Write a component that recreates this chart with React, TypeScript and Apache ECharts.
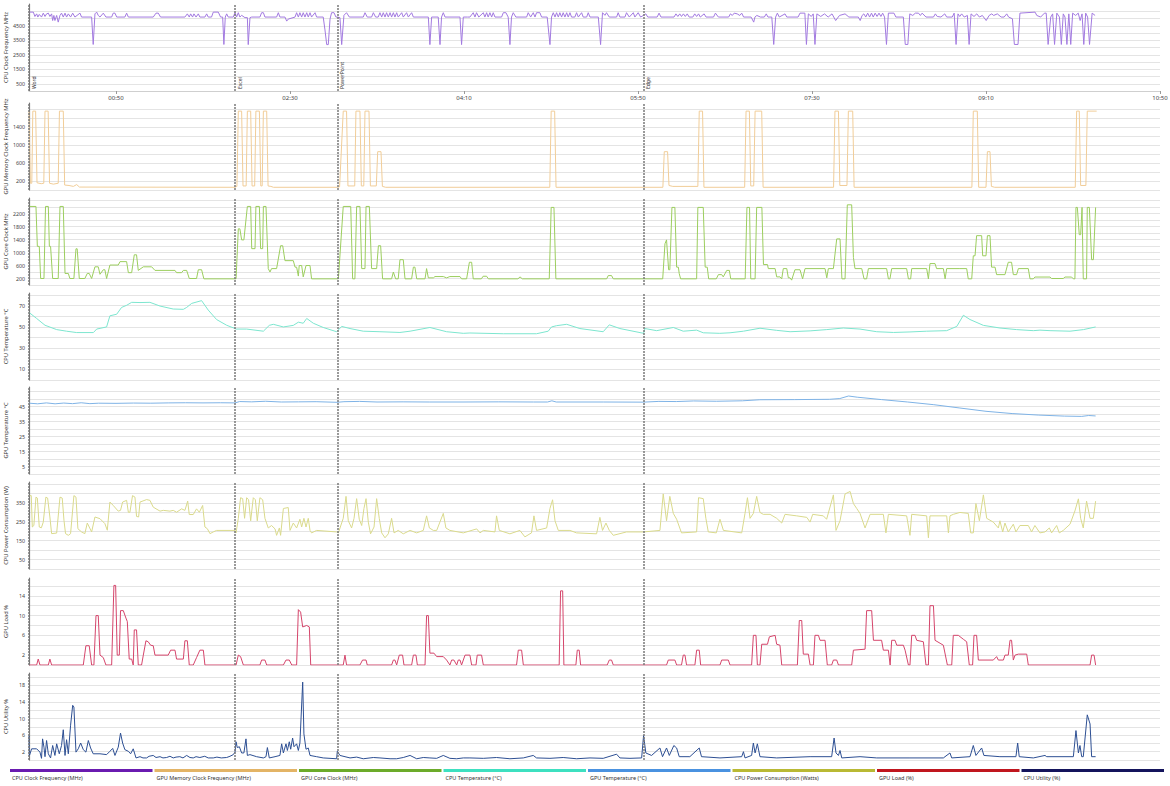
import React, { useEffect, useRef } from "react";
import * as echarts from "echarts";

type P = [number, number];

const eventNames = ["Word", "Excel", "PowerPoint", "Edge"];
const eventTimes = [0, 118.4, 177.2, 353.2];
const timeTicks = [50, 150, 250, 350, 450, 550, 650];

const axisNames = [
  "CPU Clock Frequency MHz",
  "GPU Memory Clock Frequency MHz",
  "GPU Core Clock MHz",
  "CPU Temperature °C",
  "GPU Temperature °C",
  "CPU Power Consumption (W)",
  "GPU Load %",
  "CPU Utility %",
];
const legendNames = [
  "CPU Clock Frequency (MHz)",
  "GPU Memory Clock Frequency (MHz)",
  "GPU Core Clock (MHz)",
  "CPU Temperature (°C)",
  "GPU Temperature (°C)",
  "CPU Power Consumption (Watts)",
  "GPU Load (%)",
  "CPU Utility (%)",
];
const lineColors = ["#a27ae0", "#f1cd98", "#9cce5e", "#7de6cf", "#7fb3e6", "#dada8c", "#d5456b", "#2d4f93"];
const legendColors = ["#6a1bb0", "#e3b466", "#6cab2a", "#3ee0c0", "#4a92e0", "#b9b934", "#c0161e", "#14145c"];
const yMaxes = [6000, 1930, 2680, 82, 58, 460, 17.6, 21];
const yIntervals = [500, 200, 200, 10, 5, 50, 2, 2];
const yLabelValues = [
  [500, 1500, 2500, 3500, 4500],
  [200, 600, 1000, 1400],
  [200, 600, 1000, 1400, 1800, 2200],
  [10, 30, 50, 70],
  [5, 15, 25, 35, 45],
  [50, 150, 250, 350],
  [2, 6, 10, 14],
  [2, 6, 10, 14, 18],
];

const cpuClock: P[] = [
  [0,5440],[2.5,5440],[3.4,5140],[4.4,5320],[5.1,5100],[5.9,5280],[7.2,5100],[8.2,5370],[9.2,5140],[10.1,5320],[11.1,5370],[12,5140],[13,5320],[13.6,4860],[14.3,5210],[14.9,4860],[15.9,5210],[16.8,4750],[17.8,5210],[18.7,5370],[19.7,5100],[20.7,5370],[21.6,5100],[22.6,5320],[23.9,5100],[25.1,5370],[26.4,5100],[29.3,5370],[30.2,5100],[36,5100],[36.9,3210],[37.9,5320],[38.9,5440],[39.8,5210],[40.8,5100],[42.7,5370],[44.2,5100],[47.5,5100],[48.4,5370],[49.4,5370],[50.4,5100],[55.1,5100],[56.1,5370],[57.1,5100],[71.4,5100],[73,5370],[74.3,5370],[75.6,5100],[89.6,5100],[91,5320],[92.1,5100],[92.9,5320],[94,5100],[94.8,5320],[96,5100],[97.3,5320],[98.2,5100],[101.1,5100],[102.1,5320],[103,5100],[104.9,5100],[105.9,5440],[108.8,5440],[110.1,5100],[111.3,5100],[112,3210],[112.8,5100],[113.6,5320],[114.5,5100],[117.4,5100],
  [118.4,5400],[119.3,5100],[120.3,5400],[121.2,5100],[122.2,5220],[124.1,5060],[125.5,5060],[126,3200],[127,5060],[128,5100],[132.7,5100],[133.7,5400],[134.7,5400],[135.6,5100],[142.3,5100],[143.3,5400],[144.2,5100],[147.1,5100],[148.1,4820],[149,4960],[152.9,5100],[153.8,5400],[154.8,5100],[155.7,5400],[156.7,5100],[157.6,5400],[158.6,5100],[159.6,5400],[160.5,5100],[161.5,5400],[162.4,5100],[164.4,5400],[165.3,5100],[169.1,5100],[170.1,4210],[171.1,3200],[172,3200],[173,4960],[173.9,5400],[175.3,5400],[176.4,5100],
  [177.2,5100],[178.7,5060],[179.7,3200],[181,5220],[182.5,5400],[184.1,5100],[192.1,5100],[193.1,5400],[194.4,5100],[196.9,5100],[197.9,5400],[199.2,5100],[200.7,5100],[201.7,5400],[202.7,5100],[203.6,5400],[204.6,5100],[205.5,5400],[206.5,5100],[207.5,5400],[208.4,5100],[209.4,5400],[210.3,5100],[211.3,5400],[212.2,5100],[214.2,5400],[215.1,5100],[217,5400],[218,5100],[219.9,5400],[220.9,5100],[229.5,5100],[230.4,3200],[231.4,5100],[235.2,5100],[236.2,3200],[237.1,5100],[238.1,5400],[239.1,5100],[247.7,5100],[248.6,3200],[249.6,5100],[252,5100],
  [253.4,5100],[255.3,5400],[256.3,5100],[257.2,5400],[258.5,5100],[261.1,5400],[262,5100],[263,5400],[263.9,5100],[264.9,5400],[265.9,5100],[266.8,5400],[267.8,5100],[271.6,5100],[272.6,5400],[274.1,5400],[275.4,5100],[276.4,3200],[277.3,5100],[278.3,5400],[279.8,5100],[286,5100],[286.9,5400],[288.3,5100],[289.8,5400],[290.8,5100],[291.7,5400],[293.6,5400],[294.6,5100],[297.8,5100],[299.4,3200],[300.3,5100],[301.3,5400],[302.3,5100],[303.2,5400],[304.2,5100],[305.1,5400],[306.1,5100],[307,5400],[308,5100],[309,5400],[309.9,5100],[310.9,5400],[311.8,5100],[313.7,5100],[314.7,5400],[315.7,5100],[317.6,5400],[318.5,5100],[320.5,5100],[321.4,5400],[322.4,5100],[327.2,5100],[328.5,3200],[329.6,5400],[331,5220],[331.9,5400],[333.5,5100],[337.7,5100],[338.6,5400],[339.6,5100],[342.5,5100],[343.4,5400],[345,5100],[347.3,5400],[348.2,5100],[350.1,5400],[351.5,5100],[353.2,5220],
  [354.5,5320],[355.6,5100],[361,5100],[362.1,5370],[363.2,5100],[370.7,5100],[371.8,5320],[372.9,5140],[374,5320],[375,5140],[376.1,5320],[377.2,5140],[378.3,5320],[379.4,5100],[381.5,5100],[382.6,5320],[383.7,5140],[384.8,5320],[385.8,5100],[388,5320],[389.1,5100],[393.4,5100],[394.5,5370],[396.2,5100],[402.1,5100],[403.1,5320],[404.2,5210],[405.3,5370],[407,5320],[408.5,5210],[409.6,5370],[410.7,5100],[415,5100],[416.5,4750],[417.2,5100],[418.3,5210],[420.4,5100],[422.6,5100],[423.7,5320],[424.7,5100],[426.9,5100],[428,3210],[429.1,5100],[430.1,5370],[431.2,5100],[434.5,5320],[435.5,5100],[442,5100],[443.1,5370],[445.9,5370],[446.8,3210],[447.9,5320],[449.6,5140],[450.7,5320],[451.7,3210],[452.8,5320],[455,5140],[457.2,5320],[459.3,5100],[461.5,5320],[463.6,4860],[465.8,5210],[469,5320],[471.2,5100],[476.6,5100],[477.7,4860],[478.8,5210],[479.8,5320],[480.9,5100],[482,5370],[483.1,5100],[484.2,5370],[485.2,5100],[486.3,5370],[487.4,5140],[488.5,5370],[489.6,5140],[490.6,5370],[491.7,5100],[492.8,3210],[493.9,5370],[497.1,5370],[498.2,5100],[502.5,5100],[503.6,3210],[505.1,3210],[506.2,5320],[507.9,5210],[509.4,5370],[511.2,5370],[512.3,5210],[513.3,5370],[515.5,5100],[519.8,5100],[520.9,5320],[522,5140],[524.1,5100],[526.3,5320],[527.4,5100],[530.6,5100],[531.7,5370],[532.8,3210],[533.9,5320],[534.9,5140],[536,5320],[537.5,5100],[539.3,5210],[540.3,3210],[541.4,5320],[543.1,5140],[544.7,5320],[546.2,5100],[547.9,5210],[550.1,4860],[551.8,5210],[553.3,5320],[554.4,5210],[556.5,5320],[558.7,5100],[560.4,5100],[561.9,5320],[563,5100],[565.2,4980],[566.3,3210],[568.4,3210],[569.5,5370],[578.2,5440],[579.2,5210],[581.4,5100],[583.6,5370],[584.6,5370],[585.7,3210],[587.2,5100],[588.3,5320],[589.4,3210],[590.7,5370],[592.2,5100],[593.3,3210],[594.4,5320],[595.4,5100],[596.5,3210],[597.6,5320],[598.7,3210],[599.8,5370],[601.5,5210],[603,5370],[604.1,4860],[605.2,5320],[606.2,3210],[607.3,5370],[608.4,5100],[609.5,3210],[611,5370],[612.7,5210],
];

const gpuMemClock: P[] = [
  [0,1750],[0.8,150],[1.6,150],[2.2,1750],[3.8,1750],[4.6,160],[7,140],[8.5,150],[9.2,1750],[11,1750],[11.8,150],[14,130],[16.8,150],[17.5,1750],[19.7,1750],[20.5,110],[23,100],[25.5,80],[27.4,120],[29,65],[118.4,60],
  [119.5,80],[120.3,1750],[122.2,1750],[123,90],[124.8,90],[125.5,1750],[127.4,1750],[128.2,90],[129.7,90],[130.4,1750],[132.4,1750],[133.2,90],[134,90],[134.7,1750],[136.6,1750],[137.4,90],[139,80],[140.5,60],[177.2,60],
  [178.5,70],[180.6,1750],[182.5,1750],[183.3,90],[187.2,90],[187.9,1750],[190.2,1750],[191,90],[192.4,90],[193.1,1750],[195.4,1750],[196.2,90],[199.6,90],[200.4,850],[202.3,850],[203.1,80],[205,60],
  [299.3,60],[300.1,1750],[302.1,1750],[302.9,60],[353.2,60],
  [364.3,60],[365.1,850],[367,850],[367.8,100],[370,80],[384.4,80],[385.2,1750],[387.1,1750],[387.9,60],[411.3,60],[412.1,1750],[414,1750],[414.8,90],[416.5,90],[417.3,1750],[421.1,1750],[421.9,60],[462.4,60],[463.2,1750],[465.2,1750],[466,100],[470.1,100],[470.9,1750],[473.4,1750],[474.2,60],
  [541.9,60],[542.7,1750],[545,1750],[545.8,60],[550,60],[550.8,850],[552.3,850],[553.1,80],[555,60],[601.3,60],[602.1,1750],[603.6,1750],[604.4,100],[607.4,100],[608.2,1750],[613.6,1750],
];

const gpuCoreClock: P[] = [
  [0,2420],[4,2420],[4.8,1190],[5.9,1190],[6.7,200],[8.6,200],[9.5,2420],[11.1,2420],[11.7,1190],[12.4,1190],[13.6,200],[16.8,200],[17.8,2420],[19.7,2420],[20.7,356],[22.6,356],[23.5,200],[25.8,200],[27,1115],[27.7,1115],[28.9,200],[32.1,200],[33.5,356],[34.6,356],[36,200],[37.9,560],[39.8,560],[40.8,330],[42.7,470],[43.6,470],[44.6,200],[46.5,615],[51.3,615],[52.3,720],[56.1,720],[57.1,380],[59,380],[60.5,930],[61.8,930],[62.8,450],[65.7,560],[70.5,560],[72.4,450],[83.9,450],[84.8,380],[87.7,380],[88.7,450],[90.6,450],[92.1,200],[96.3,200],[97.3,470],[99.2,470],[100.5,190],[118.4,190],
  [119,190],[120.3,1730],[121.2,1730],[122.2,1390],[123.5,1390],[125.5,2420],[127.4,2420],[128,1120],[129.9,1120],[130.4,2420],[132.4,2420],[133.1,1120],[134.3,1120],[134.7,2420],[136.2,2420],[137.5,505],[138.5,400],[139.4,505],[142.3,505],[144.6,1210],[145.8,1210],[147.1,750],[151.9,750],[152.9,550],[153.8,550],[154.8,275],[155.3,600],[156.7,600],[157.6,250],[159.2,600],[161.5,600],[162.4,190],[177.2,190],
  [177.8,190],[180.6,2420],[184.9,2420],[186,190],[187.3,190],[188.3,2420],[190.2,2420],[191.2,505],[193.1,505],[193.7,2420],[195.6,2420],[196.9,505],[199.8,505],[200.8,1210],[202.1,1210],[203.2,190],[208.4,190],[209.4,400],[210.7,190],[212.2,190],[213.2,780],[215.1,780],[216.1,190],[219.9,190],[220.9,550],[221.8,550],[222.8,190],[227.6,190],[228.5,505],[229.5,220],[232.4,220],[233.3,260],[238.1,260],[240,220],[241.9,260],[247.7,260],[248.6,190],[251.5,190],[253.1,700],[254.4,700],[255.3,190],
  [260,190],[261,270],[263,270],[264,190],[281,190],[282.2,250],[283.5,190],[299,190],[300.1,2390],[301.7,2390],[302.8,190],[332,190],[332.9,290],[334.8,290],[335.8,190],[353.2,190],
  [364.2,190],[365.5,1270],[366.4,1390],[367.6,470],[368.3,470],[369.5,2390],[371.2,2390],[372.2,550],[373.2,550],[373.7,350],[374.5,190],[383.7,190],[384.4,2390],[387.5,2390],[388.6,550],[389.8,550],[390.6,190],[395,190],
  [396.2,320],[398.1,320],[399,250],[401,450],[402.5,450],[403.3,190],[411.6,190],[412.6,2390],[414.1,2390],[414.8,190],[417.3,190],[418.2,2390],[421.2,2390],[422.1,630],[424.4,630],[424.9,505],[428.8,505],[429.7,250],[431.6,250],[432.6,190],[433.5,505],[435.5,505],[436.4,220],[437.4,220],[438.3,150],[440.2,470],[443.1,470],[444.6,190],[446,505],[457.5,505],[458.5,220],[459.4,505],[462.3,505],[464.2,1420],[466.1,1420],[467.2,190],[469,190],[470.3,2470],[472.8,2470],[473.8,850],[474.7,505],[478.6,505],[479.9,190],[481.4,190],[482.4,505],[492.9,505],[493.9,190],[494.8,190],[495.8,505],[504.4,505],[505.4,190],[506.7,190],[507.3,505],[515.9,505],[516.9,190],[517.8,660],[520.7,660],[521.6,505],[525.5,505],[526.5,190],[527.4,505],[535,505],
  [538.9,505],[539.8,190],[541.8,190],[542.7,900],[543.7,900],[544.6,1520],[547.5,1520],[548.1,900],[550,900],[550.8,1520],[552.3,1520],[553.2,550],[555.2,550],[556.1,320],[560.9,320],[562.8,700],[564.7,700],[565.7,320],[567.6,320],[568.6,505],[574.3,505],[575.3,190],[577.2,190],[578.1,245],[586.8,245],[587.7,200],[594.4,200],[595.4,245],[599.2,245],[600.2,190],[601.1,190],[601.7,2390],[602.5,2390],[603.6,1550],[604.4,1550],[605.2,2390],[605.9,190],[607.8,190],[608.2,2390],[609.4,2390],[610.7,780],[611.7,780],[613,2390],
];

const cpuTemp: P[] = [
  [0,63.7],[4.4,58],[9.2,51.6],[15.9,47.5],[21.6,46],[27.4,44.7],[37,44.7],[38.9,48],[44.6,50],[46.5,60.5],[50.4,62],[53.2,68.4],[56.1,70.4],[59,73.2],[63.8,73],[69.5,73.2],[75.3,69.7],[82.9,66.9],[88.7,66.6],[90.6,68.4],[93.5,72.2],[99.2,74.8],[103,65.9],[107.8,57],[113.6,51.6],[118.4,48.5],
  [119,48],[125.1,48],[134.7,46],[138.1,51.5],[140.4,52.5],[146.2,50],[151.9,51.5],[154.8,54.5],[157.6,53.5],[159.6,58],[163.4,53.5],[169.1,49.5],[176.8,45.5],[179.7,50.5],[184.5,48.5],[192.1,46],[201.7,45.5],[213.2,44.8],[219,46],[230.4,49.5],[240,45.5],[249.6,44],
  [253.4,44.3],[272.6,43.6],[291.7,43.6],[298.4,46],[300.3,50],[303.2,51.2],[309,52.5],[316.6,48.5],[330,45.5],[333.5,52],[339.6,48.5],[353.2,44],[354,48.5],[360.7,46.5],[370.3,49.5],[376,46],[383.7,47],[387.5,44.5],[397,44],
  [402.9,44.5],[410.6,46],[420.1,48.8],[429.7,46.8],[437.4,45.5],[448.9,46.3],[458.5,47.5],[468,49],[477.6,48],[487.2,45.5],[496.8,44.8],[506.3,45.3],[515.9,46],[527.4,46.5],[533.2,50.5],[537,61],[540.8,57],[548.5,51.5],[558,49],[567.6,47.5],[577.2,46.5],[581,47],[586.8,46.5],[598.3,46],[606,47.5],[613,50],
];

const gpuTemp: P[] = [
  [0,47.2],[5,46.8],[10,47.4],[15,46.8],[20,47.3],[25,46.9],[30,47.5],[35,46.9],[40,47.2],[50,47.1],[60,47.3],[70,47.2],[80,47.4],[90,47.5],[100,47.4],[110,47.5],[118.4,47.4],[121,48.3],[128,48.1],[136,48.5],[145,48],[155,48.1],[165,48.2],[177,47.8],[181,48.2],[190,48.4],[200,48],[215,48.1],[230,48],[250,48],[270,48.1],[290,48],[298,48],[300.5,48.8],[303,48],[330,48],[353,47.9],[362,48.4],[372,48.3],[382,48.7],[395,48.5],[410,48.8],[420,49.5],[440,49.6],[460,49.8],[466,50.3],[471,52],[476,51.2],[490,49.6],[505,48],[520,46.2],[535,44],[550,41.8],[565,40.3],[580,39.3],[595,38.6],[605,38.4],[609,39],[613,38.7],
];

const cpuPower: P[] = [
  [0,388],[1.3,388],[1.9,222],[2.8,230],[4,380],[4.8,375],[5.9,222],[7.1,218],[8.2,248],[9.7,380],[10.7,375],[12,275],[13,187],[15.9,190],[17.8,380],[19.1,375],[20.1,257],[21,187],[22.6,178],[23.9,187],[25.8,388],[27,380],[28.1,213],[30.2,196],[32.1,187],[33.5,243],[34.6,222],[36,196],[37.9,275],[40.8,266],[43.6,240],[45,205],[46.5,354],[48.4,336],[51.3,306],[52.6,310],[53.8,354],[56.1,363],[57.1,300],[58,300],[59.5,388],[60.9,380],[61.8,278],[63,275],[63.8,354],[67.6,367],[69.5,363],[71.4,327],[75.3,306],[77.2,310],[81,306],[82.9,310],[84.8,300],[87.7,318],[89.6,310],[91.2,359],[92.1,288],[94.4,288],[96.3,318],[97.9,300],[99.8,336],[101.1,222],[102.5,213],[104,187],[105.9,196],[107.8,204],[118.5,204],
  [119,191],[120.3,268],[121.6,377],[122.8,372],[123.9,268],[125.1,377],[126.2,366],[127.4,255],[128.9,377],[130.1,366],[131.2,255],[132.7,377],[134.3,366],[135.6,268],[137.5,217],[139.4,230],[141.4,212],[142.3,178],[143.9,217],[144.6,178],[146.2,320],[149,325],[150,204],[151.9,243],[153.8,217],[155.7,263],[156.7,222],[158,268],[159.2,222],[160.5,268],[161.5,204],[162.4,191],[165.3,204],[176.8,196],
  [177.8,191],[180.6,268],[182.2,384],[183.5,255],[185.4,217],[186.8,268],[188.3,372],[189.8,263],[191.2,230],[192.5,320],[193.7,372],[195,248],[196.3,186],[198.3,222],[199.8,372],[201.3,268],[202.7,191],[204.6,165],[206.5,186],[208.4,268],[209.8,191],[212.2,204],[215.1,186],[219,204],[222.8,191],[226.6,204],[228.5,281],[230.1,217],[232.4,204],[234.3,204],[238.1,294],[239.6,217],[241.9,204],[249.6,191],[257.3,212],[259.2,191],
  [261.1,204],[267.8,196],[268.7,281],[270.3,204],[276.4,186],[282.1,204],[285,170],[288.8,191],[290.2,281],[291.7,204],[297.5,217],[299.4,320],[300.9,366],[302.3,255],[304.2,204],[310.9,204],[314.7,191],[326.2,186],[328.1,273],[329.6,204],[331.6,243],[333.5,204],[335.8,178],[343.4,196],[353.2,196],[362.6,204],[364.5,397],[366.4,255],[368.3,384],[370.3,294],[372.2,263],[375,191],[383.7,196],[384.8,377],[387.5,372],[389,268],[390.4,196],[395,191],
  [397.1,263],[399.1,204],[409.6,191],[411.5,294],[412.9,377],[414.4,268],[416.3,294],[418.2,384],[420.1,299],[422,289],[425.9,289],[429.7,268],[432.6,243],[434.5,289],[441.2,281],[447,273],[448.9,248],[450.4,289],[456.5,281],[458.4,263],[462.3,392],[463.8,204],[466.1,255],[469,397],[471.9,410],[473.8,346],[475.7,320],[477.6,294],[480.5,217],[483.4,289],[491,289],[492.5,191],[493.9,289],[504.4,281],[506.3,178],[507.3,289],[515.9,281],[516.9,165],[517.8,281],[527.4,281],[528.4,191],[529.3,281],
  [531.2,289],[535,299],[539.8,294],[541.2,191],[542.7,191],[544.2,346],[546.2,255],[548.5,392],[550.4,268],[554.2,248],[557.1,217],[558,255],[559.6,196],[560.9,243],[562.8,196],[565.7,237],[567.2,196],[569.5,230],[574.3,230],[576.2,196],[578.1,230],[581,191],[583.9,196],[586.4,217],[587.7,191],[590.6,230],[592.1,191],[594.4,204],[598.3,237],[601.1,307],[603.1,371],[604.4,268],[605.9,217],[607.8,359],[609.8,268],[611.7,268],[613,359],
];

const gpuLoad: P[] = [
  [0,0],[4.4,0],[5.3,1.2],[6.3,0],[11.1,0],[12,1.2],[13,0],[31.2,0],[32.7,3.9],[34.6,3.9],[36,0],[37.3,0],[38.5,10],[39.8,10],[40.8,2],[42.7,1.5],[44.2,0],[47.5,0],[48.8,16.1],[49.8,16.1],[50.7,2],[51.9,2],[52.6,11],[54.2,11],[55.7,9.5],[56.5,8.8],[57.6,1.2],[59,1.2],[59.9,0],[60.5,7.1],[61.8,7.1],[62.8,0],[64.7,0],[65.7,2],[67.2,4.9],[68.5,4.7],[69.9,4],[71.4,3.9],[72.4,2],[80,2],[81.4,3],[83.9,3],[84.8,1.2],[88.7,1.2],[89.6,4.9],[91,4.9],[92.1,0],[94.4,0],[96.3,1.5],[98.2,3],[100.2,3],[101.1,0],[118.4,0],
  [119,0],[120.3,2],[121.6,1.7],[123.2,0],[132.7,0],[133.7,1],[135.6,1],[136.6,0],[146.2,0],[147.7,1],[149.6,1],[151,0],[153.8,0],[154.8,11.2],[156.1,10.7],[157.3,7.7],[159.6,8],[161.1,7.7],[161.9,0],[180.6,0],[181.6,2],[182.5,0],[190.2,0],[191.7,1],[193.7,1],[194.4,0],[208.4,0],[209.4,1],[210.3,1],[211.3,0],[212.8,2],[214.7,2],[215.5,0],[219.9,0],[220.9,2],[222.4,2],[223.2,0],[227.6,0],[228.5,10],[229.5,10],[230.4,2.4],[232.7,2.4],[234.3,1.7],[238.1,1.7],[240,1],[241.9,0],[242.9,1],[244.2,1],[245.8,0],[246.7,1],[247.7,1],[248.6,0],[250.6,2],[253.4,2],[254.4,0],[256.9,0],[257.6,2],[260.1,2],[261.1,0],[280.2,0],[281.2,3],[283.1,3],[284.1,0],[304.7,0],[305.5,15],[306.7,15],[307.4,0],[314.3,0],[315.1,3],[316.2,3],[317,0],[332.3,0],[333.5,1],[334.8,1],[335.8,0],
  [366.4,0],[367.4,1],[371.2,1],[372.2,0],[375,0],[376,2],[377,2],[377.9,0],[382.7,0],[383.7,3],[385.2,3],[386,0],[397.1,0],[398.1,1],[401.9,1],[402.9,0],[415.3,0],[416.3,6],[417.8,6],[418.6,0],[420.1,0],[421.1,4.2],[424.4,4.2],[425.5,5.7],[428.8,6],[429.7,4.2],[431.6,4],[432.6,0],[441.6,0],[442.7,9],[444.1,9],[445,2.2],[447.9,2.2],[448.9,0],[450.8,0],[451.7,6],[453.7,6],[454.6,5],[457.5,5],[458.8,0],[461.3,0],[462.3,1],[464.2,1],[465.2,0],[472.8,0],[473.8,3],[480.5,3.2],[481.4,11],[484.3,11],[485.3,5],[490,5],[491,3],[493.9,3],[494.9,0],[495.8,5],[497.7,5],[498.7,4],[502.5,4],[503.5,3],[505.4,0],[506.3,0],[507.3,6],[509.2,6],[510.2,5],[514,4.7],[515.5,0],[516.9,0],[517.8,12],[519.8,12],[520.7,5],[523.6,4.4],[525.5,4],[527.8,0],[530.3,0],[531.2,6],[534.1,6],[537,5.2],[538.9,4.7],[540.4,0],[542.3,0],[543.1,6],[544.6,6],[545.6,1],[554.2,1],[556.1,1.7],[557.1,1],[560,1],[560.9,2],[562.8,2],[563.8,5],[564.7,5],[565.7,1],[566.7,2],[568.6,2.2],[573.4,2.2],[574.3,0],[609.8,0],[610.7,2],[612.1,2],[613,0],
];

const cpuUtility: P[] = [
  [0,5.9],[0.2,1.0],[1.5,2.7],[4.4,2.7],[6.3,1.9],[7.2,0.4],[7.8,5.1],[8.6,3.1],[9.2,0.8],[10.1,4.7],[11.1,1.5],[12.4,0.5],[13.6,3.5],[14.9,1.1],[15.9,3.9],[17.4,1.5],[18.7,3.5],[19.7,7.3],[20.7,1.1],[21.6,4.9],[22.6,1.5],[23.9,8.4],[25.1,13.2],[25.8,12.8],[27,1.9],[28.3,2.7],[29.7,4.1],[31.2,2.5],[32.7,1.9],[34.1,4.7],[35.4,2.9],[36.9,1.5],[40.8,1.5],[44.6,1.3],[46.5,2.1],[48.1,2.8],[49.4,1.1],[51.3,3.1],[52.6,6.5],[53.8,4.1],[55.1,2.5],[57.1,2.1],[58.4,1.5],[59.9,2.7],[61.5,0.5],[63.8,0.8],[65.5,0.5],[67.6,0.5],[69,0.9],[71.4,1.1],[73,0.6],[75.3,0.8],[77,0.5],[79.1,0.6],[81,0.9],[82.9,0.5],[84.5,0.7],[86.7,0.8],[88.5,0.5],[90.6,1.1],[92.5,0.6],[94.4,0.5],[96,0.8],[98.2,0.6],[101,0.9],[103,0.5],[105.9,0.5],[108,0.7],[110.5,0.5],[113.6,0.6],[115.5,0.9],[117.4,1.3],[118.4,1.9],
  [119,4.4],[119.7,3.0],[120.9,3.2],[122.2,1.7],[123.5,1.7],[124.7,5.1],[125.5,1.1],[127,1.3],[130.8,0.8],[134.7,0.5],[136.2,0.8],[137,3.0],[138.1,0.5],[141.4,0.8],[144.2,1.1],[145.2,3.9],[146.2,1.7],[147.7,3.9],[148.5,2.3],[149.6,4.4],[150.4,2.6],[151.5,5.3],[152.3,3.2],[153.8,3.9],[154.8,2.3],[155.7,4.1],[157.3,18.8],[158,6.3],[159.2,2.6],[160.5,2.9],[161.5,1.1],[165.3,0.8],[169.1,0.5],[176.8,0.3],
  [177.2,2.1],[178.7,1.1],[184.5,0.5],[188.3,0.7],[192.1,0.3],[197.9,0.6],[201.7,0.5],[207.5,0.3],[211.3,0.3],[215.1,0.6],[219,1.1],[222.8,0.3],[226.6,0.6],[230.4,0.5],[234.3,0.4],[238.1,1.1],[241.9,0.4],[245.8,0.3],[249.6,0.5],[253.4,0.5],[261.1,0.4],[268.7,0.6],[276.4,0.3],[284.1,0.5],[289.8,1.1],[291.7,0.5],[299.4,0.4],[307,0.6],[314.7,0.3],[322.4,0.5],[330,0.4],[337.7,1.4],[339.6,0.5],[345.4,0.4],[352.1,0.5],
  [353.2,5.9],[354.5,1.7],[357.8,1.1],[362.6,2.9],[364.1,0.8],[366.4,2.9],[368,1.1],[370.6,3.5],[372.2,2.9],[373.7,0.8],[379.8,0.8],[385.2,2.9],[386.5,0.8],[397.1,0.5],[409.6,0.8],[410.6,2.0],[411.5,0.5],[415.3,1.1],[416.3,4.1],[417.3,1.7],[418.6,3.9],[420.1,0.8],[429.7,0.5],[448.9,0.8],[461.3,0.8],[462.7,5.3],[463.8,1.7],[465.2,1.1],[466.1,2.3],[467.1,0.5],[477.6,0.8],[487.2,0.5],[506.3,0.5],[525.5,0.5],[529.3,1.7],[530.3,0.5],[540.8,0.8],[542.7,3.5],[544.2,1.1],[547.5,2.9],[548.8,1.1],[558,0.8],[567.2,0.8],[568.2,4.1],[569.1,0.8],[577.2,0.5],[583.9,1.1],[584.9,0.8],[600.2,0.8],[601.7,7.1],[603.1,1.7],[604,3.5],[605,0.8],[605.9,0.8],[608.2,10.9],[609.8,8.7],[610.7,0.8],[613,0.8],
];

const seriesData = [cpuClock, gpuMemClock, gpuCoreClock, cpuTemp, gpuTemp, cpuPower, gpuLoad, cpuUtility];

const FONT = "'Noto Sans', 'DejaVu Sans', sans-serif";
const W = 1170;
const H = 786;
const gridTops = [4, 103, 198, 293, 387, 482, 578, 673];
const gridHeight = 87;

function fmtTime(v: number): string {
  const m = Math.floor(v / 60);
  const s = Math.round(v % 60);
  return `${String(m).padStart(2, "0")}:${String(s).padStart(2, "0")}`;
}

export default function App() {
  const ref = useRef<HTMLDivElement>(null);

  useEffect(() => {
    if (!ref.current) return;
    const chart = echarts.init(ref.current, undefined, { renderer: "svg" });

    const grids = gridTops.map((top) => ({
      left: 29,
      right: 10,
      top,
      height: gridHeight,
      containLabel: false,
      outerBoundsMode: "none",
    }));

    const xAxes = gridTops.map((_, i) => ({
      type: "value",
      gridIndex: i,
      min: 0,
      max: 650,
      interval: 50,
      splitLine: { show: false },
      axisLine: { show: i === 0, lineStyle: { color: "#cfcfcf", width: 1 } },
      axisTick: { show: i === 0, customValues: timeTicks, length: 3, lineStyle: { color: "#999" } },
      axisLabel: {
        show: i === 0,
        customValues: timeTicks,
        formatter: (v: number) => fmtTime(v),
        fontSize: 6,
        color: "#444",
        fontFamily: FONT,
        margin: 4,
      },
    }));

    const yAxes = gridTops.map((_, i) => ({
      type: "value",
      gridIndex: i,
      min: 0,
      max: yMaxes[i],
      interval: yIntervals[i],
      name: axisNames[i],
      nameLocation: "middle",
      nameGap: 20,
      nameRotate: 90,
      nameMoveOverlap: false,
      nameTextStyle: { fontSize: 5.8, color: "#333", fontFamily: FONT },
      axisLine: { show: true, lineStyle: { color: "#777", width: 1.2 } },
      axisTick: { show: false },
      axisLabel: {
        customValues: yLabelValues[i],
        formatter: (v: number) => String(v),
        fontSize: 5.3,
        color: "#444",
        fontFamily: FONT,
        margin: 4,
      },
      splitLine: { show: true, showMaxLine: false, lineStyle: { color: "#e4e4e4", width: 1 } },
    }));

    const series = seriesData.map((d, i) => ({
      type: "line",
      xAxisIndex: i,
      yAxisIndex: i,
      data: d,
      showSymbol: false,
      symbol: "none",
      lineStyle: { color: lineColors[i], width: 1 },
      itemStyle: { color: lineColors[i] },
      markLine: {
        silent: true,
        symbol: ["none", "none"],
        animation: false,
        lineStyle: { color: "#7a7a7a", type: [2, 1], width: 1.5 },
        label:
          i === 0
            ? {
                show: true,
                position: "insideStartBottom",
                formatter: "{b}",
                fontSize: 5,
                color: "#333",
                fontFamily: FONT,
                distance: 2,
              }
            : { show: false },
        data: eventTimes.map((t, k) => ({ name: eventNames[k], xAxis: t })),
      },
    }));

    const legendWidth = (W - 14) / legendNames.length;
    const graphics: any[] = [];
    legendNames.forEach((name, i) => {
      graphics.push({
        type: "rect",
        left: 10 + i * legendWidth,
        top: 769,
        shape: { width: legendWidth - 2, height: 3 },
        style: { fill: legendColors[i] },
      });
      graphics.push({
        type: "text",
        left: 12 + i * legendWidth,
        top: 775,
        style: { text: name, fontSize: 5.5, fill: "#333", fontFamily: FONT },
      });
    });

    chart.setOption({
      animation: false,
      backgroundColor: "#ffffff",
      grid: grids,
      xAxis: xAxes,
      yAxis: yAxes,
      series,
      graphic: graphics,
    });

    return () => chart.dispose();
  }, []);

  return (
    <div
      ref={ref}
      style={{ position: "absolute", left: 0, top: 0, width: W, height: H, background: "#fff" }}
    />
  );
}
